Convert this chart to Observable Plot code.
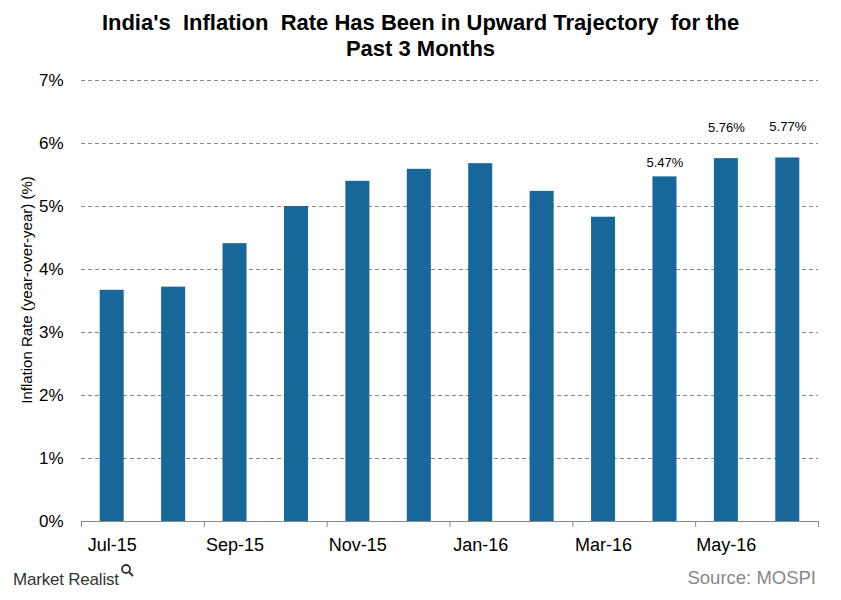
<!DOCTYPE html>
<html><head><meta charset="utf-8">
<script src="https://cdn.jsdelivr.net/npm/d3@7"></script>
<script src="https://cdn.jsdelivr.net/npm/@observablehq/plot@0.6"></script>
<style>
body{margin:0;background:#fff;}
#wrap{position:relative;width:841px;height:600px;font-family:"Liberation Sans",Arial,sans-serif;background:#fff;}
#title{position:absolute;top:10px;left:0;width:841px;text-align:center;font-family:"Liberation Sans Narrow","Arial Narrow",sans-serif;font-weight:bold;font-size:22px;line-height:26px;white-space:pre;color:#000;}
#chart{position:absolute;top:65px;left:0;}
#brand{position:absolute;left:13px;top:571px;font-size:17px;line-height:1;color:#333;letter-spacing:-0.2px;}
#brand svg{vertical-align:top;margin-top:-8px;margin-left:1px;}
#source{position:absolute;right:25px;top:569px;font-size:18.5px;line-height:1;color:#888;}
</style></head>
<body><div id="wrap">
<div id="title">India's  Inflation  Rate Has Been in Upward Trajectory  for the
Past 3 Months</div>
<div id="chart"></div>
<div id="brand">Market Realist<svg width="14" height="16" viewBox="0 0 14 16"><circle cx="6" cy="6" r="4" fill="none" stroke="#333" stroke-width="1.8"/><line x1="9" y1="9" x2="13" y2="13" stroke="#333" stroke-width="2"/></svg></div>
<div id="source">Source: MOSPI</div>
</div>
<script>
const months = ["Jul-15","Aug-15","Sep-15","Oct-15","Nov-15","Dec-15","Jan-16","Feb-16","Mar-16","Apr-16","May-16","Jun-16"];
const rates = [3.67,3.72,4.41,5.00,5.40,5.59,5.68,5.24,4.83,5.47,5.76,5.77];
const yTicks = [0,1,2,3,4,5,6,7];
const yTitle = "Inflation Rate (year-over-year) (%)";
const labelledLow = ["Apr-16"];
const labelledHigh = ["May-16","Jun-16"];

const data = months.map((m,i)=>({month:m, i, rate:rates[i]}));
const boundaries = d3.range(0, months.length + 1, 2);
const labelPos = d3.range(0, months.length, 2).map(i => i + 0.5);

const chart = Plot.plot({
  width: 841, height: 500,
  marginLeft: 81, marginRight: 23, marginTop: 15, marginBottom: 44,
  style: {fontFamily: "Liberation Sans, Arial, sans-serif", background: "#fff", color: "#000"},
  x: {type: "linear", domain: [0, months.length], label: null},
  y: {domain: [0, 7], label: null},
  marks: [
    Plot.gridY(yTicks.filter(d => d > 0), {stroke: "#8a8a8a", strokeOpacity: 1, strokeDasharray: "4,3"}),
    Plot.rectY(data, {x1: "i", x2: d => d.i + 1, y: "rate", fill: "#17679a", insetLeft: 18.7, insetRight: 18.7}),
    Plot.axisY(yTicks, {tickSize: 0, tickPadding: 18, tickFormat: d => d + "%", fontSize: 17, label: null}),
    Plot.axisX(boundaries, {tickSize: 6, tickFormat: () => "", stroke: "#8a8a8a", label: null}),
    Plot.axisX(labelPos, {tickSize: 0, tickPadding: 17, tickFormat: d => months[Math.floor(d)], fontSize: 18, label: null}),
    Plot.ruleY([0], {stroke: "#8a8a8a"}),
    Plot.text(data.filter(d => labelledLow.includes(d.month)), {x: d => d.i + 0.5, y: "rate", text: d => d.rate.toFixed(2) + "%", dy: -14, fontSize: 13, fill: "#000"}),
    Plot.text(data.filter(d => labelledHigh.includes(d.month)), {x: d => d.i + 0.5, y: "rate", text: d => d.rate.toFixed(2) + "%", dy: -31, fontSize: 13, fill: "#000"}),
    Plot.text([yTitle], {frameAnchor: "left", textAnchor: "middle", rotate: -90, dx: -54, dy: -11, fontSize: 15, fill: "#000"})
  ]
});
document.getElementById("chart").appendChild(chart);
</script>
</body></html>
